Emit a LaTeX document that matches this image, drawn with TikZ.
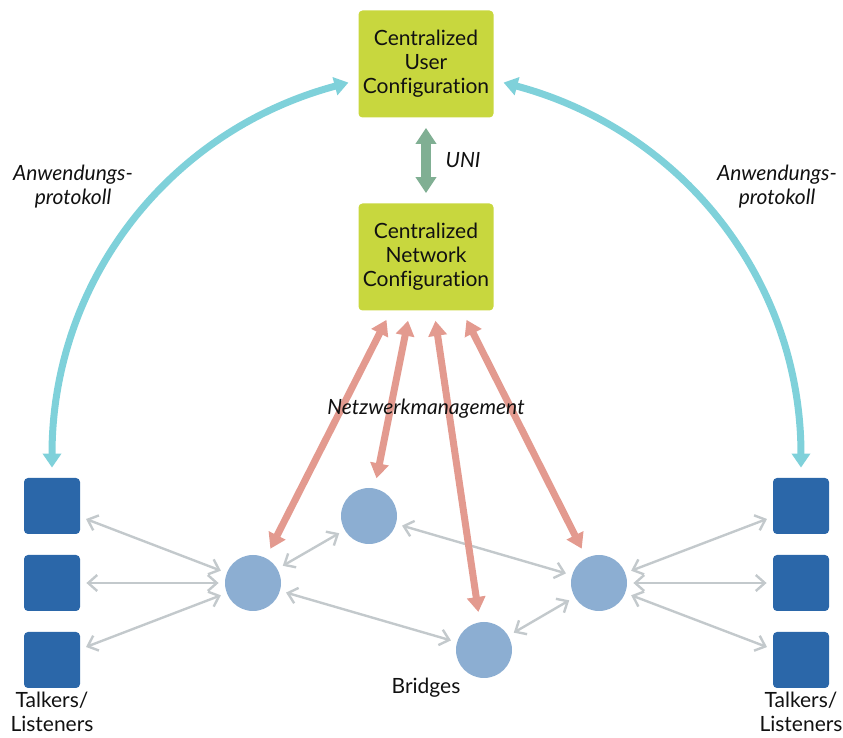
\documentclass[tikz,border=0pt]{standalone}
\usepackage{fontspec}
\setmainfont{Lato}[Ligatures={NoCommon,NoContextual,NoRare}, Contextuals=NoAlternate]
\usetikzlibrary{arrows.meta}
\definecolor{ink}{HTML}{111111}
\definecolor{central}{HTML}{C8D73E}
\definecolor{uni}{HTML}{80AF93}
\definecolor{app}{HTML}{7FD1DA}
\definecolor{mgmt}{HTML}{E39A8F}
\definecolor{station}{HTML}{2B67A9}
\definecolor{bridge}{HTML}{8CAED2}
\definecolor{link}{HTML}{C3C9CC}

\begin{document}
\begin{tikzpicture}[
  x=0.5pt, y=-0.5pt,
  font=\fontsize{10.5}{12}\selectfont, text=ink,
  confbox/.style={fill=central, rounded corners=2pt, minimum width=67.5pt,
    minimum height=53.5pt, align=center, inner sep=2pt},
  endpoint/.style={fill=station, rounded corners=2pt, minimum size=28pt, inner sep=0pt},
  bridgenode/.style={circle, fill=bridge, minimum size=28pt, inner sep=0pt},
  lbl/.style={align=center, font=\fontsize{10.5}{12}\selectfont\itshape},
  applink/.style={{Triangle[length=7pt,width=9pt]}-{Triangle[length=7pt,width=9pt]},
    draw=app, line width=3.5pt, shorten >=5pt, shorten <=5pt},
  unilink/.style={{Triangle[length=8pt,width=10pt]}-{Triangle[length=8pt,width=10pt]},
    draw=uni, line width=5pt, shorten >=5pt, shorten <=5pt},
  mgmtlink/.style={{Triangle[length=7.5pt,width=9pt]}-{Triangle[length=7.5pt,width=9pt]},
    draw=mgmt, line width=3.5pt, shorten >=5pt, shorten <=5pt},
  link/.style={{Straight Barb[length=4.5pt,width=8pt]}-{Straight Barb[length=4.5pt,width=8pt]},
    draw=link, line width=1.2pt, shorten >=3pt, shorten <=3pt}
]
  \useasboundingbox (0,0) rectangle (843,738);

  \node[confbox] (cuc) at (426,64) {Centralized\\User\\Configuration};
  \node[confbox] (cnc) at (426,257) {Centralized\\Network\\Configuration};
  \draw[unilink] (cuc) -- node[lbl, right=4pt] {UNI} (cnc);

  % talkers / listeners
  \node[endpoint] (tl1) at (52,506) {};
  \node[endpoint] (tl2) at (52,583) {};
  \node[endpoint] (tl3) at (52,660) {};
  \node[endpoint] (tr1) at (801,506) {};
  \node[endpoint] (tr2) at (801,583) {};
  \node[endpoint] (tr3) at (801,660) {};
  \node[align=center] (tltxt) at (52,712) {Talkers/\\Listeners};
  \node[align=center] (trtxt) at (801,712) {Talkers/\\Listeners};

  % bridges
  \node[bridgenode] (br1) at (253,583) {};
  \node[bridgenode] (br2) at (369,516) {};
  \node[bridgenode] (br3) at (484,650) {};
  \node[bridgenode] (br4) at (599,583) {};
  \node (brtxt) at (426,688) {Bridges};

  \draw[link] (tl1) -- (br1);
  \draw[link] (tl2) -- (br1);
  \draw[link] (tl3) -- (br1);
  \draw[link] (br1) -- (br2);
  \draw[link] (br1) -- (br3);
  \draw[link] (br2) -- (br4);
  \draw[link] (br3) -- (br4);
  \draw[link] (br4) -- (tr1);
  \draw[link] (br4) -- (tr2);
  \draw[link] (br4) -- (tr3);

  \draw[mgmtlink] ([xshift=-17.5pt]cnc.south) -- (br1);
  \draw[mgmtlink] ([xshift=-8pt]cnc.south) -- (br2);
  \draw[mgmtlink] ([xshift=4pt]cnc.south) -- (br3);
  \draw[mgmtlink] ([xshift=18pt]cnc.south) -- (br4);
  \node[lbl] (nmtxt) at (426,409) {Netzwerkmanagement};

  \draw[applink] (tl1.north) to[out=90, in=195] ([yshift=-8pt]cuc.west);
  \draw[applink] (tr1.north) to[out=90, in=-15] ([yshift=-8pt]cuc.east);
  \node[lbl] (aptxtl) at (73,187) {Anwendungs-\\protokoll};
  \node[lbl] (aptxtr) at (777,187) {Anwendungs-\\protokoll};
\end{tikzpicture}
\end{document}
